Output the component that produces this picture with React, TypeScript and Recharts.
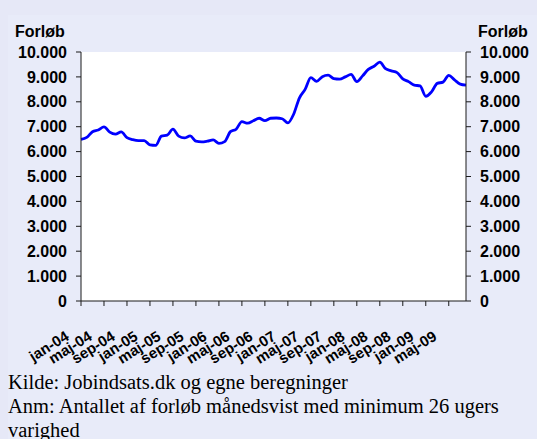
import React from "react";
import { LineChart, Line, XAxis, YAxis, CartesianGrid } from "recharts";

const months: string[] = [
  "jan-04","feb-04","mar-04","apr-04","maj-04","jun-04","jul-04","aug-04","sep-04","okt-04","nov-04","dec-04",
  "jan-05","feb-05","mar-05","apr-05","maj-05","jun-05","jul-05","aug-05","sep-05","okt-05","nov-05","dec-05",
  "jan-06","feb-06","mar-06","apr-06","maj-06","jun-06","jul-06","aug-06","sep-06","okt-06","nov-06","dec-06",
  "jan-07","feb-07","mar-07","apr-07","maj-07","jun-07","jul-07","aug-07","sep-07","okt-07","nov-07","dec-07",
  "jan-08","feb-08","mar-08","apr-08","maj-08","jun-08","jul-08","aug-08","sep-08","okt-08","nov-08","dec-08",
  "jan-09","feb-09","mar-09","apr-09","maj-09","jun-09","jul-09","aug-09",
];

const forloeb: number[] = [
  6490, 6570, 6800, 6870, 6990, 6780, 6700, 6790, 6560, 6480,
  6440, 6440, 6270, 6250, 6620, 6660, 6900, 6620, 6550, 6630,
  6420, 6390, 6420, 6470, 6330, 6400, 6800, 6900, 7200, 7140,
  7240, 7340, 7240, 7340, 7350, 7320, 7150, 7500, 8150, 8500,
  8970, 8820, 9010, 9070, 8930, 8910, 9000, 9100, 8810, 9040,
  9300, 9430, 9590, 9330, 9240, 9170, 8920, 8810, 8670, 8640,
  8220, 8400, 8740, 8790, 9060, 8880, 8710, 8670,
];

const yTicks: number[] = [0, 1000, 2000, 3000, 4000, 5000, 6000, 7000, 8000, 9000, 10000];

const axisTitle = "Forløb";
const footerLines: string[] = [
  "Kilde: Jobindsats.dk og egne beregninger",
  "Anm: Antallet af forløb månedsvist med minimum 26 ugers",
  "varighed",
];

const data = months.map((m, i) => ({ m, v: forloeb[i] }));

const fmt = (n: number) =>
  n >= 1000 ? `${Math.floor(n / 1000)}.${String(n % 1000).padStart(3, "0")}` : `${n}`;

const FONT = "'Liberation Sans', Arial, Helvetica, sans-serif";
const AXIS = "#1a1a1a";

const XTick = (props: any) => {
  const { x, y, payload } = props;
  return (
    <g transform={`translate(${x - 11},${y + 31})`}>
      <text
        textAnchor="end"
        transform="rotate(-32)"
        fontSize={15}
        fontWeight="bold"
        fontFamily={FONT}
        fill="#000"
      >
        {payload.value}
      </text>
    </g>
  );
};

const yTickStyle = { fill: "#000", fontSize: 16, fontWeight: "bold", fontFamily: FONT };

export default function App() {
  return (
    <div
      style={{
        position: "absolute",
        left: 0,
        top: 0,
        width: 537,
        height: 439,
        background: "#E6E8F7",
        overflow: "hidden",
      }}
    >
      <div
        style={{
          position: "absolute",
          left: 8,
          top: 15,
          width: 529,
          height: 424,
          background: "#E8EBF9",
        }}
      />
      <div style={{ position: "absolute", left: 0, top: 0 }}>
        <LineChart
          width={537}
          height={439}
          data={data}
          margin={{ top: 52, right: 0, bottom: 78, left: 0 }}
        >
          <CartesianGrid fill="#ffffff" horizontal={false} vertical={false} yAxisId="left" />
          <XAxis
            dataKey="m"
            interval={3}
            tickSize={5}
            tickLine={{ stroke: AXIS }}
            axisLine={{ stroke: AXIS }}
            tick={<XTick />}
            height={60}
            padding={{ left: 0, right: 0 }}
          />
          <YAxis
            yAxisId="left"
            orientation="left"
            width={81}
            domain={[0, 10000]}
            ticks={yTicks}
            interval={0}
            tickFormatter={fmt}
            tickSize={5}
            tickMargin={9}
            tickLine={{ stroke: AXIS }}
            axisLine={{ stroke: AXIS }}
            tick={yTickStyle}
          />
          <YAxis
            yAxisId="right"
            orientation="right"
            width={71}
            domain={[0, 10000]}
            ticks={yTicks}
            interval={0}
            tickFormatter={fmt}
            tickSize={5}
            tickMargin={9}
            tickLine={{ stroke: AXIS }}
            axisLine={{ stroke: AXIS }}
            tick={yTickStyle}
          />
          <Line
            yAxisId="right"
            dataKey="v"
            type="monotone"
            stroke="none"
            strokeWidth={0}
            dot={false}
            activeDot={false}
            legendType="none"
            isAnimationActive={false}
          />
          <Line
            yAxisId="left"
            dataKey="v"
            type="monotone"
            stroke="#0000FF"
            strokeWidth={2.8}
            dot={false}
            activeDot={false}
            isAnimationActive={false}
          />
        </LineChart>
      </div>
      <svg
        width={537}
        height={439}
        style={{ position: "absolute", left: 0, top: 0, pointerEvents: "none" }}
      >
        <text x={15} y={37} fontSize={16} fontWeight="bold" fontFamily={FONT} fill="#000">
          {axisTitle}
        </text>
        <text x={478} y={37} fontSize={16} fontWeight="bold" fontFamily={FONT} fill="#000">
          {axisTitle}
        </text>
        {footerLines.map((t, i) => (
          <text
            key={i}
            x={8}
            y={389 + i * 24}
            fontSize={20.5}
            fontFamily="'Liberation Serif', 'Times New Roman', serif"
            fill="#000"
          >
            {t}
          </text>
        ))}
      </svg>
    </div>
  );
}
